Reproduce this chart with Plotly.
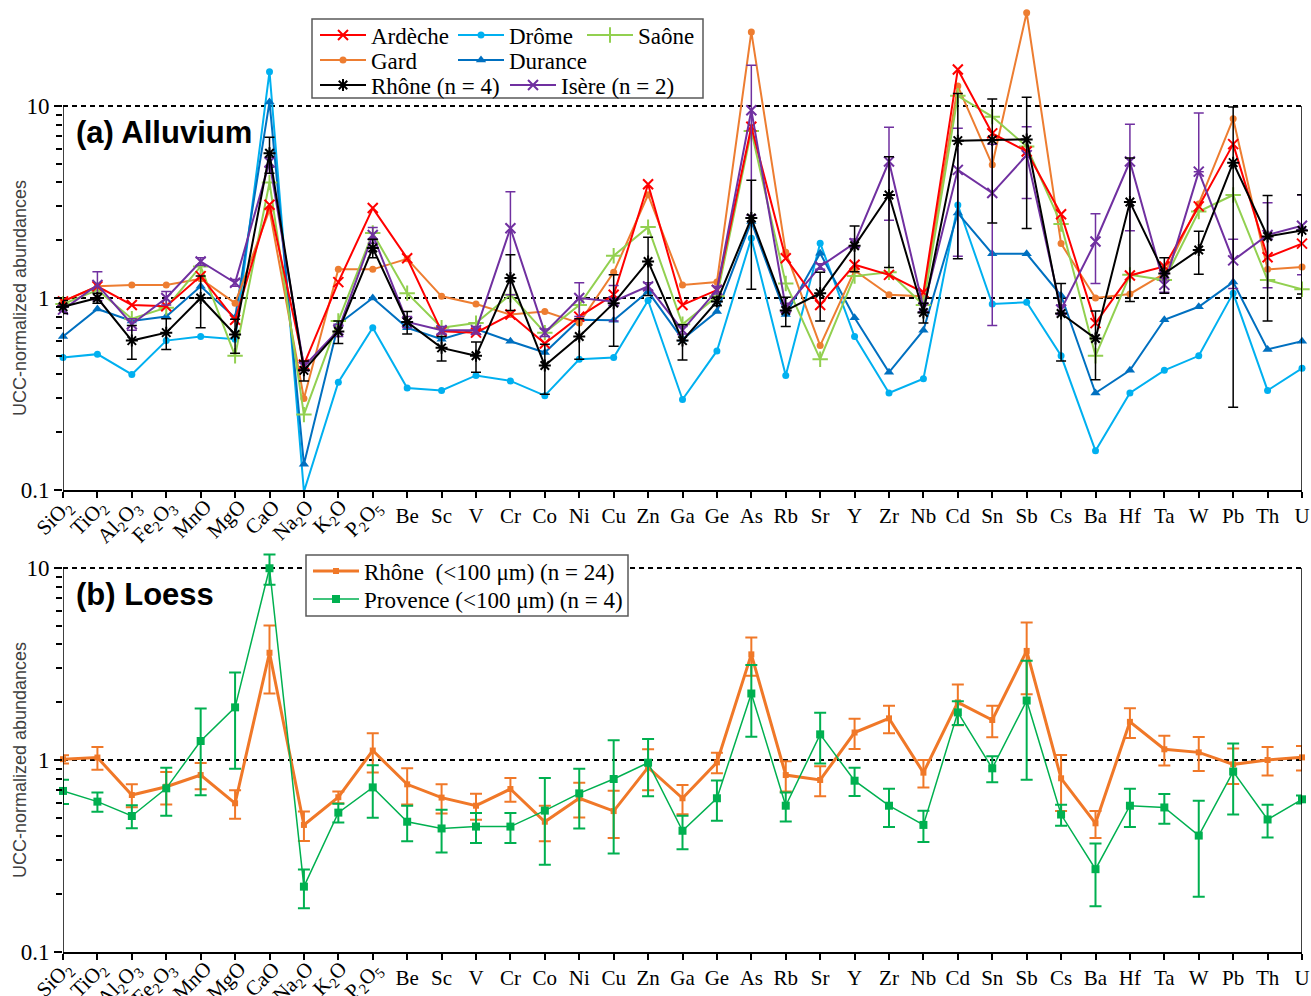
import plotly.graph_objects as go

# ---------------- data ----------------
categories = ['SiO2', 'TiO2', 'Al2O3', 'Fe2O3', 'MnO', 'MgO', 'CaO', 'Na2O', 'K2O', 'P2O5',
              'Be', 'Sc', 'V', 'Cr', 'Co', 'Ni', 'Cu', 'Zn', 'Ga', 'Ge', 'As', 'Rb', 'Sr', 'Y',
              'Zr', 'Nb', 'Cd', 'Sn', 'Sb', 'Cs', 'Ba', 'Hf', 'Ta', 'W', 'Pb', 'Th', 'U']
oxide_labels = ['SiO<sub>2</sub>', 'TiO<sub>2</sub>', 'Al<sub>2</sub>O<sub>3</sub>',
                'Fe<sub>2</sub>O<sub>3</sub>', 'MnO', 'MgO', 'CaO', 'Na<sub>2</sub>O',
                'K<sub>2</sub>O', 'P<sub>2</sub>O<sub>5</sub>']
element_labels = categories[len(oxide_labels):]
y_tick_values = [0.1, 1, 10]
y_tick_labels = ['0.1', '1', '10']
y_minor_values = [0.2, 0.3, 0.4, 0.5, 0.6, 0.7, 0.8, 0.9, 2, 3, 4, 5, 6, 7, 8, 9]

# (a) Alluvium
ardeche = [0.96, 1.15, 0.92, 0.905, 1.30, 0.77, 3.06, 0.45, 1.21, 2.94, 1.61, 0.67, 0.66, 0.82,
           0.58, 0.80, 1.04, 3.91, 0.92, 1.10, 7.8, 1.61, 0.92, 1.49, 1.32, 1.07, 15.5, 7.2,
           5.8, 2.73, 0.74, 1.31, 1.46, 3.0, 6.33, 1.63, 1.92]
drome = [0.49, 0.51, 0.40, 0.60, 0.63, 0.61, 15.1, 0.098, 0.364, 0.70, 0.34, 0.33, 0.395, 0.37,
         0.31, 0.48, 0.49, 0.97, 0.296, 0.53, 2.05, 0.395, 1.93, 0.63, 0.32, 0.38, 3.05, 0.93,
         0.95, 0.50, 0.16, 0.32, 0.42, 0.50, 1.06, 0.33, 0.43]
saone = [0.93, 1.10, 0.78, 0.89, 1.46, 0.50, 4.0, 0.247, 0.76, 2.18, 1.06, 0.70, 0.74, 1.04,
         0.66, 0.92, 1.66, 2.34, 0.73, 1.02, 7.4, 1.19, 0.48, 1.30, 1.36, 0.92, 11.3, 8.8,
         6.15, 2.43, 0.50, 1.32, 1.24, 2.82, 3.44, 1.24, 1.11]
gard = [0.96, 1.15, 1.17, 1.17, 1.26, 0.94, 2.88, 0.30, 1.41, 1.41, 1.60, 1.02, 0.93, 0.82,
        0.85, 0.74, 1.36, 3.45, 1.17, 1.21, 24.3, 1.73, 0.565, 1.39, 1.04, 1.02, 12.7, 4.94,
        30.6, 1.92, 1.0, 1.05, 1.34, 3.09, 8.58, 1.41, 1.45]
durance = [0.63, 0.877, 0.76, 0.80, 1.15, 0.79, 10.5, 0.136, 0.73, 1.0, 0.70, 0.61, 0.69, 0.595,
           0.52, 0.77, 0.765, 1.08, 0.61, 0.85, 2.5, 0.82, 1.71, 0.79, 0.41, 0.68, 2.77, 1.70,
           1.70, 1.03, 0.32, 0.42, 0.77, 0.90, 1.21, 0.54, 0.595]
rhone_a = [0.90, 1.0, 0.60, 0.66, 1.0, 0.645, 5.67, 0.42, 0.67, 1.82, 0.75, 0.55, 0.50, 1.27,
           0.445, 0.63, 0.94, 1.55, 0.60, 0.96, 2.61, 0.86, 1.06, 1.87, 3.44, 0.84, 6.6, 6.66,
           6.7, 0.83, 0.615, 3.16, 1.34, 1.78, 5.07, 2.09, 2.25]
rhone_a_sd = [0.07, 0.06, 0.12, 0.12, 0.3, 0.13, 1.2, 0.05, 0.09, 0.2, 0.1, 0.08, 0.09, 0.41,
              0.13, 0.15, 0.38, 0.52, 0.125, 0.05, 1.5, 0.15, 0.3, 0.5, 2.0, 0.1, 5.0, 4.2,
              4.4, 0.36, 0.24, 2.2, 0.28, 0.45, 4.8, 1.33, 1.2]
isere = [0.87, 1.17, 0.73, 1.0, 1.55, 1.20, 5.1, 0.44, 0.68, 2.13, 0.75, 0.68, 0.68, 2.31,
         0.66, 1.0, 0.96, 1.15, 0.68, 1.10, 9.5, 0.89, 1.46, 1.93, 5.14, 0.89, 4.65, 3.52,
         5.55, 0.87, 1.97, 5.14, 1.17, 4.55, 1.57, 2.13, 2.38]
isere_sd = [0.03, 0.2, 0.05, 0.08, 0.07, 0.05, 0.3, 0.02, 0.05, 0.2, 0.05, 0.03, 0.03, 1.27,
            0.03, 0.2, 0.2, 0.05, 0.03, 0.05, 6.8, 0.05, 0.05, 0.1, 2.6, 0.05, 3.0, 2.8,
            2.25, 0.05, 0.78, 2.9, 0.1, 4.65, 0.45, 1.0, 1.06]

# (b) Loess
rhone_b = [1.01, 1.03, 0.657, 0.726, 0.835, 0.595, 3.62, 0.459, 0.64, 1.12, 0.747, 0.637, 0.578,
           0.706, 0.477, 0.632, 0.542, 0.916, 0.632, 0.972, 3.55, 0.835, 0.787, 1.39, 1.648,
           0.859, 1.996, 1.615, 3.70, 0.803, 0.468, 1.58, 1.137, 1.096, 0.949, 1.0, 1.032]
rhone_b_sd = [0.05, 0.14, 0.09, 0.14, 0.13, 0.1, 1.4, 0.08, 0.045, 0.26, 0.16, 0.11, 0.09, 0.1,
              0.1, 0.13, 0.15, 0.22, 0.11, 0.12, 0.8, 0.15, 0.14, 0.25, 0.27, 0.14, 0.48, 0.3,
              1.5, 0.26, 0.075, 0.28, 0.2, 0.22, 0.2, 0.17, 0.15]
provence = [0.69, 0.607, 0.511, 0.712, 1.256, 1.88, 9.97, 0.219, 0.532, 0.72, 0.477, 0.44, 0.45,
            0.45, 0.545, 0.67, 0.796, 0.968, 0.428, 0.632, 2.22, 0.578, 1.36, 0.78, 0.578,
            0.459, 1.77, 0.905, 2.04, 0.52, 0.27, 0.578, 0.566, 0.404, 0.87, 0.49, 0.624]
provence_sd = [0.1, 0.07, 0.07, 0.2, 0.6, 0.98, 1.8, 0.05, 0.06, 0.22, 0.1, 0.11, 0.08, 0.08,
               0.26, 0.23, 0.47, 0.32, 0.085, 0.15, 0.9, 0.1, 0.4, 0.13, 0.13, 0.085, 0.25,
               0.14, 1.25, 0.065, 0.097, 0.13, 0.1, 0.21, 0.35, 0.095, 0.03]

# ---------------- layout helpers ----------------
W, H = 1311, 996
ML, MR, MT, MB = 63, 9, 4, 44
PW, PH = W - ML - MR, H - MT - MB


def xp(px):
    return (px - ML) / PW


def yp(py):
    return (MT + PH - py) / PH


SERIF = 'Liberation Serif'
SANS = 'Liberation Sans'
xidx = list(range(len(categories)))


def lower_err(vals, sd):
    return [s if s < v else 0 for v, s in zip(vals, sd)]


fig = go.Figure()

series_a = [
    dict(name='Drôme', y=drome, color='#00B0F0', symbol='circle', size=7, lw=2,
         leg='legend3', pos=(458, 35)),
    dict(name='Durance', y=durance, color='#0070C0', symbol='triangle-up', size=9, lw=2,
         leg='legend6', pos=(458, 60)),
    dict(name='Gard', y=gard, color='#ED7D31', symbol='circle', size=7, lw=2,
         leg='legend5', pos=(320, 60)),
    dict(name='Saône', y=saone, color='#92D050', symbol='cross-thin', size=11, lw=2,
         leg='legend4', pos=(587, 35)),
    dict(name='Ardèche', y=ardeche, color='#FF0000', symbol='x-thin', size=10, lw=2,
         leg='legend2', pos=(320, 35)),
    dict(name='Isère (n = 2)', y=isere, color='#7030A0', symbol='x-thin', size=10, lw=2,
         leg='legend8', pos=(510, 85), sd=isere_sd),
    dict(name='Rhône (n = 4)', y=rhone_a, color='#000000', symbol='asterisk', size=10, lw=2,
         leg='legend7', pos=(320, 85), sd=rhone_a_sd),
]

legend_layouts = {}
for s in series_a:
    open_sym = s['symbol'] in ('x-thin', 'cross-thin', 'asterisk')
    marker = dict(symbol=s['symbol'], size=s['size'], color=s['color'],
                  line=dict(color=s['color'], width=2 if open_sym else 0))
    kw = {}
    if 'sd' in s:
        kw['error_y'] = dict(type='data', symmetric=False, array=s['sd'],
                             arrayminus=lower_err(s['y'], s['sd']),
                             color=s['color'], thickness=1.5, width=5)
    fig.add_trace(go.Scatter(x=xidx, y=s['y'], name=s['name'], mode='lines+markers',
                             line=dict(color=s['color'], width=s['lw']), marker=marker,
                             xaxis='x', yaxis='y', cliponaxis=False, legend=s['leg'], **kw))
    legend_layouts[s['leg']] = s['pos']

series_b = [
    dict(name='Rhône\u00a0 (<100 μm) (n = 24)', y=rhone_b, sd=rhone_b_sd, color='#F07828',
         lw=3, size=6, leg='legend9', pos=(313, 571)),
    dict(name='Provence (<100 μm) (n = 4)', y=provence, sd=provence_sd, color='#00B050',
         lw=1.5, size=8, leg='legend10', pos=(313, 599)),
]
for s in series_b:
    fig.add_trace(go.Scatter(x=xidx, y=s['y'], name=s['name'], mode='lines+markers',
                             line=dict(color=s['color'], width=s['lw']),
                             marker=dict(symbol='square', size=s['size'], color=s['color']),
                             error_y=dict(type='data', symmetric=False, array=s['sd'],
                                          arrayminus=lower_err(s['y'], s['sd']),
                                          color=s['color'], thickness=2, width=6),
                             xaxis='x2', yaxis='y2', cliponaxis=False, legend=s['leg']))
    legend_layouts[s['leg']] = s['pos']

for leg, (lx, ly) in legend_layouts.items():
    fig.update_layout({leg: dict(x=xp(lx - 5), y=yp(ly), xanchor='left', yanchor='middle',
                                 bgcolor='rgba(0,0,0,0)', borderwidth=0, itemwidth=46,
                                 font=dict(family=SERIF, size=23, color='black'))})

xaxis_common = dict(range=[0, len(categories) - 1], tickmode='array', tickvals=xidx,
                    ticktext=[''] * len(oxide_labels) + element_labels,
                    ticks='outside', ticklen=6, tickwidth=1.5, tickcolor='black',
                    showline=True, linecolor='black', linewidth=1.5, showgrid=False,
                    zeroline=False, automargin=False,
                    tickfont=dict(family=SERIF, size=21, color='black'))
yaxis_common = dict(type='log', tickmode='array', tickvals=y_tick_values,
                    ticktext=y_tick_labels, ticks='outside', ticklen=8, tickwidth=1.5,
                    tickcolor='black', showline=False, showgrid=True, gridcolor='black',
                    gridwidth=1.5, griddash='5px,4px', zeroline=False, automargin=False,
                    tickfont=dict(family=SERIF, size=23, color='black'),
                    minor=dict(tickmode='array', tickvals=y_minor_values, ticks='outside',
                               ticklen=6, tickwidth=1.5, tickcolor='black', showgrid=False))

fig.update_layout(
    width=W, height=H, margin=dict(l=ML, r=MR, t=MT, b=MB, autoexpand=False),
    paper_bgcolor='white', plot_bgcolor='white', template='none',
    xaxis=dict(domain=[0, 1], anchor='y', **xaxis_common),
    xaxis2=dict(domain=[0, 1], anchor='y2', **xaxis_common),
    yaxis=dict(domain=[yp(490), 1], anchor='x', range=[-1, 1 + (106 - MT) / 192],
               **yaxis_common),
    yaxis2=dict(domain=[0, yp(540)], anchor='x2', range=[-1, 1 + (568 - 540) / 192],
                **yaxis_common),
)

shapes = []
for xa, ya in (('x', 'y'), ('x2', 'y2')):
    for xv in (0, len(categories) - 1):
        shapes.append(dict(type='line', xref=xa, yref=ya, x0=xv, x1=xv, y0=0.1, y1=10,
                           line=dict(color='black', width=1.5), layer='above'))
shapes.append(dict(type='rect', xref='paper', yref='paper', x0=xp(312), x1=xp(703),
                   y0=yp(98), y1=yp(19), fillcolor='white',
                   line=dict(color='#595959', width=1.5), layer='above'))
shapes.append(dict(type='rect', xref='paper', yref='paper', x0=xp(306), x1=xp(628),
                   y0=yp(616), y1=yp(555), fillcolor='white',
                   line=dict(color='#595959', width=1.5), layer='above'))
fig.update_layout(shapes=shapes)

annotations = [
    dict(text='<b>(a) Alluvium</b>', xref='paper', yref='paper', x=xp(74), y=yp(132),
         xanchor='left', yanchor='middle', showarrow=False,
         font=dict(family=SANS, size=31, color='black')),
    dict(text='<b>(b) Loess</b>', xref='paper', yref='paper', x=xp(74), y=yp(594),
         xanchor='left', yanchor='middle', showarrow=False,
         font=dict(family=SANS, size=31, color='black')),
]
for ya in ('y', 'y2'):
    annotations.append(dict(text='UCC-normalized abundances', xref='paper', yref=ya,
                            x=xp(20), y=0, textangle=-90, showarrow=False,
                            xanchor='center', yanchor='middle',
                            font=dict(family=SANS, size=18, color='#404040')))
for xa, ya in (('x', 'y domain'), ('x2', 'y2 domain')):
    for i, lab in enumerate(oxide_labels):
        annotations.append(dict(text=lab, xref=xa, yref=ya, x=i, y=0, textangle=-45,
                                xanchor='right', yanchor='top', xshift=18, yshift=-2,
                                showarrow=False,
                                font=dict(family=SERIF, size=21, color='black')))
fig.update_layout(annotations=annotations)

fig.write_html('out.html', config={'displayModeBar': False},
               post_script="document.body.style.margin='0px';"
                           "document.body.style.padding='0px';")
